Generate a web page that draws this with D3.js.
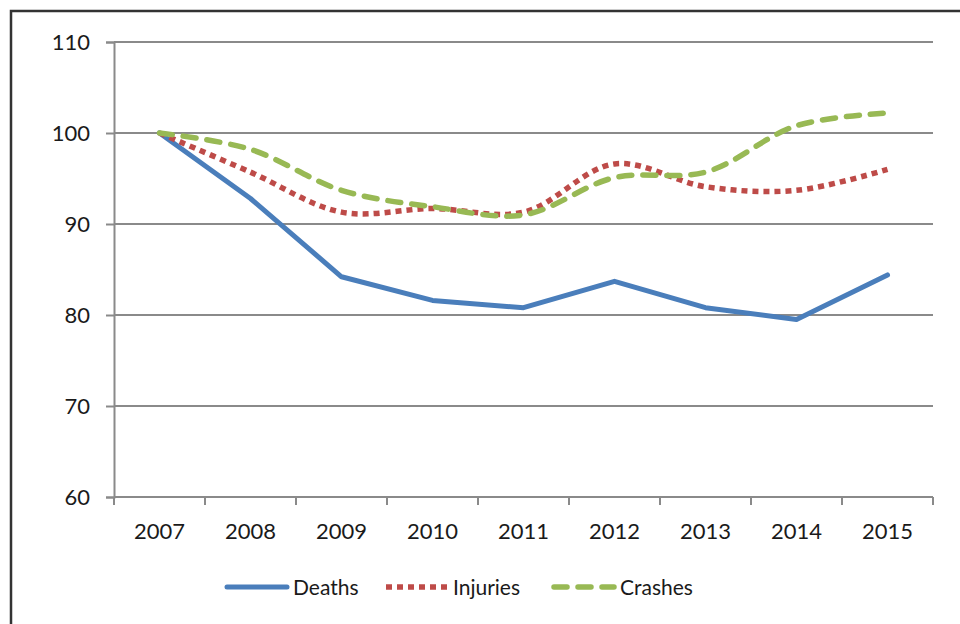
<!DOCTYPE html>
<html>
<head>
<meta charset="utf-8">
<script src="https://cdn.jsdelivr.net/npm/d3@7"></script>
<style>
  body { margin: 0; background: #fff; }
  text { font-family: Lato, "Open Sans", sans-serif; fill: #1a1a1a; }
</style>
</head>
<body>
<div id="plot"></div>
<script>
var years = ["2007", "2008", "2009", "2010", "2011", "2012", "2013", "2014", "2015"];
var deaths   = [100, 92.8, 84.2, 81.6, 80.8, 83.7, 80.8, 79.5, 84.4];
var injuries = [100, 95.7, 91.3, 91.7, 91.3, 96.6, 94.1, 93.7, 96.0];
var crashes  = [100, 98.2, 93.7, 91.9, 91.0, 95.1, 95.7, 100.8, 102.2];
var yTicks = [60, 70, 80, 90, 100, 110];

var series = [
  {name: "Deaths", values: deaths, color: "#4a7ebb", width: 5, dash: null, cap: "round", curve: d3.curveLinear},
  {name: "Injuries", values: injuries, color: "#be4b48", width: 5.5, dash: "6,5", cap: "butt", curve: d3.curveCatmullRom.alpha(0.5)},
  {name: "Crashes", values: crashes, color: "#98b954", width: 5.5, dash: "13,11", cap: "round", curve: d3.curveCatmullRom.alpha(0.5)}
];

var W = 960, H = 624;
var margin = {top: 42, right: 27, bottom: 127, left: 114},
    width = W - margin.left - margin.right,
    height = H - margin.top - margin.bottom;

var root = d3.select("#plot")
  .append("svg")
    .attr("width", W)
    .attr("height", H);

// outer frame (runs off the right and bottom of the picture)
root.append("rect")
  .attr("x", 11).attr("y", 11)
  .attr("width", 1000).attr("height", 700)
  .attr("fill", "none")
  .attr("stroke", "#333")
  .attr("stroke-width", 2.5);

var svg = root.append("g")
  .attr("transform", "translate(" + margin.left + "," + margin.top + ")");

var x = d3.scaleBand()
  .domain(years)
  .range([0, width]);

var y = d3.scaleLinear()
  .domain([60, 110])
  .range([height, 0]);

// gridlines
svg.selectAll(".grid")
  .data(yTicks)
  .enter()
  .append("line")
    .attr("x1", 0)
    .attr("x2", width)
    .attr("y1", function(d) { return y(d); })
    .attr("y2", function(d) { return y(d); })
    .attr("stroke", "#8a8a8a")
    .attr("stroke-width", 2);

// y axis
var yAxis = svg.append("g")
  .call(d3.axisLeft(y).tickValues(yTicks).tickSize(8).tickPadding(16));
yAxis.select(".domain").attr("stroke", "#8a8a8a").attr("stroke-width", 2);
yAxis.selectAll(".tick line").attr("stroke", "#8a8a8a").attr("stroke-width", 2);
yAxis.selectAll(".tick text").style("font-size", "22px").attr("fill", "#1a1a1a");

// x axis: ticks between categories
var xg = svg.append("g")
  .attr("transform", "translate(0," + height + ")");
xg.append("line")
  .attr("x1", 0).attr("x2", width)
  .attr("stroke", "#8a8a8a").attr("stroke-width", 2);
xg.selectAll(".xt")
  .data(years.concat(["end"]))
  .enter()
  .append("line")
    .attr("x1", function(d, i) { return i * x.step(); })
    .attr("x2", function(d, i) { return i * x.step(); })
    .attr("y1", 0).attr("y2", 8)
    .attr("stroke", "#8a8a8a").attr("stroke-width", 2);
xg.selectAll(".xl")
  .data(years)
  .enter()
  .append("text")
    .attr("x", function(d) { return x(d) + x.bandwidth() / 2; })
    .attr("y", 42)
    .attr("text-anchor", "middle")
    .style("font-size", "22px")
    .text(function(d) { return d; });

// lines
series.forEach(function(s) {
  var line = d3.line()
    .x(function(d, i) { return x(years[i]) + x.bandwidth() / 2; })
    .y(function(d) { return y(d); })
    .curve(s.curve);
  svg.append("path")
    .datum(s.values)
    .attr("d", line)
    .attr("fill", "none")
    .attr("stroke", s.color)
    .attr("stroke-width", s.width)
    .attr("stroke-linejoin", "round")
    .attr("stroke-linecap", s.cap)
    .attr("stroke-dasharray", s.dash);
});

// legend
var legendX = [227, 386, 554];
var legend = root.append("g");
series.forEach(function(s, i) {
  var lx = legendX[i];
  legend.append("line")
    .attr("x1", lx).attr("x2", lx + (i == 1 ? 63 : 60))
    .attr("y1", 587).attr("y2", 587)
    .attr("stroke", s.color)
    .attr("stroke-width", s.width)
    .attr("stroke-linecap", s.cap)
    .attr("stroke-dasharray", s.dash);
  legend.append("text")
    .attr("x", lx + (i == 1 ? 67 : 66))
    .attr("y", 595)
    .style("font-size", "21px")
    .text(s.name);
});
</script>
</body>
</html>
